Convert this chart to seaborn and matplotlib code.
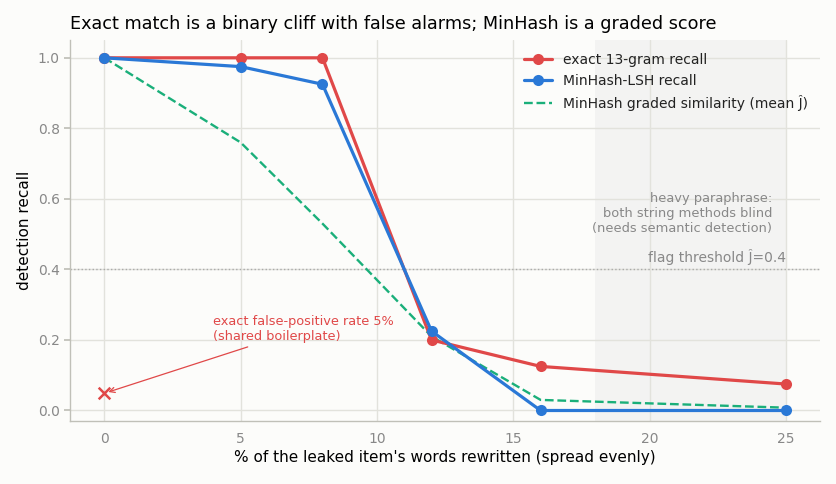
import matplotlib
matplotlib.use("Agg")
import matplotlib.pyplot as plt
import seaborn as sns
import pandas as pd

rewrite_pct = [0, 5, 8, 12, 16, 25]
exact_recall = [1.0, 1.0, 1.0, 0.20, 0.125, 0.075]
minhash_recall = [1.0, 0.975, 0.925, 0.225, 0.0, 0.0]
graded_sim = [1.0, 0.76, 0.53, 0.21, 0.03, 0.008]
false_pos_rate = 0.05
threshold = 0.4

sns.set_theme(style="whitegrid")
plt.rcParams['font.family'] = ['DejaVu Sans']

bg = "#fcfcfa"
fig, ax = plt.subplots(figsize=(8.36, 4.84), dpi=100)
fig.patch.set_facecolor(bg)
ax.set_facecolor(bg)

df = pd.DataFrame({"x": rewrite_pct, "exact": exact_recall,
                   "minhash": minhash_recall, "graded": graded_sim})

red = "#e04848"
blue = "#2a78d6"
green = "#1aaf7a"

ax.axvspan(18, 25, color="#ebebeb", alpha=0.5, zorder=0, lw=0)
ax.axhline(threshold, color="#aaaaaa", ls=":", lw=1, zorder=1)

sns.lineplot(data=df, x="x", y="exact", ax=ax, color=red, lw=2.3, marker="o",
             markersize=8, markeredgewidth=0, label="exact 13-gram recall", zorder=3)
sns.lineplot(data=df, x="x", y="minhash", ax=ax, color=blue, lw=2.3, marker="o",
             markersize=8, markeredgewidth=0, label="MinHash-LSH recall", zorder=4)
sns.lineplot(data=df, x="x", y="graded", ax=ax, color=green, lw=1.7, ls="--",
             label="MinHash graded similarity (mean Ĵ)", zorder=2)

ax.scatter([0], [false_pos_rate], marker="x", s=70, color=red, linewidths=1.8, zorder=5)
ax.annotate("exact false-positive rate 5%\n(shared boilerplate)",
            xy=(0.05, false_pos_rate), xytext=(4.0, 0.192),
            color=red, fontsize=9.3, va="bottom", ha="left",
            arrowprops=dict(arrowstyle="->", color=red, lw=0.9))

ax.text(24.5, 0.558, "heavy paraphrase:\nboth string methods blind\n(needs semantic detection)",
        ha="right", va="center", fontsize=9.4, color="#888888")
ax.text(25, 0.412, "flag threshold Ĵ=0.4", ha="right", va="bottom",
        fontsize=10, color="#888888")

ax.set_xlim(-1.25, 26.25)
ax.set_ylim(-0.03, 1.05)
ax.set_xticks([0, 5, 10, 15, 20, 25])
ax.set_yticks([0.0, 0.2, 0.4, 0.6, 0.8, 1.0])
ax.set_yticklabels(["0.0", "0.2", "0.4", "0.6", "0.8", "1.0"])
ax.set_xlabel("% of the leaked item's words rewritten (spread evenly)", fontsize=11,
              color="black", labelpad=3)
ax.set_ylabel("detection recall", fontsize=11, color="black")
ax.set_title("Exact match is a binary cliff with false alarms; MinHash is a graded score",
             loc="left", fontsize=12.7, color="black", pad=8)

ax.grid(True, color="#e2e2dc", lw=1)
for s in ["top", "right"]:
    ax.spines[s].set_visible(False)
for s in ["left", "bottom"]:
    ax.spines[s].set_color("#c0c0b8")
    ax.spines[s].set_linewidth(1)
ax.tick_params(axis="both", colors="#888888", labelsize=10, length=4, color="#c0c0b8")
ax.tick_params(axis="x", length=0, pad=8)
ax.tick_params(axis="y", left=True)

leg = ax.legend(loc="upper right", frameon=False, fontsize=10)
for t in leg.get_texts():
    t.set_color("#222222")

fig.subplots_adjust(left=0.084, right=0.981, top=0.917, bottom=0.13)
fig.savefig("out.png", dpi=100, facecolor=bg)
